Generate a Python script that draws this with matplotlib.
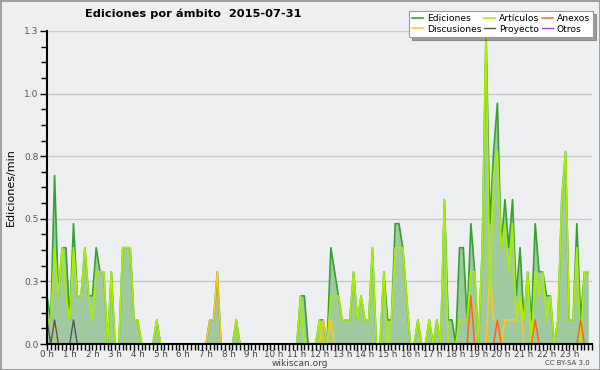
import matplotlib
matplotlib.use("Agg")
import matplotlib.pyplot as plt
import numpy as np
from matplotlib.ticker import FixedLocator, MultipleLocator

# edits per minute, 10-minute bins, one row per hour
total_rows = [
    [0.2, 0.1, 0.7, 0.2, 0.4, 0.4],
    [0.1, 0.5, 0.2, 0.2, 0.4, 0.2],
    [0.2, 0.4, 0.3, 0.3, 0.0, 0.3],
    [0.0, 0.0, 0.4, 0.4, 0.4, 0.1],
    [0.1, 0.0, 0.0, 0.0, 0.0, 0.1],
    [0.0, 0.0, 0.0, 0.0, 0.0, 0.0],
    [0.0, 0.0, 0.0, 0.0, 0.0, 0.0],
    [0.0, 0.1, 0.1, 0.3, 0.0, 0.0],
    [0.0, 0.0, 0.1, 0.0, 0.0, 0.0],
    [0.0, 0.0, 0.0, 0.0, 0.0, 0.0],
    [0.0, 0.0, 0.0, 0.0, 0.0, 0.0],
    [0.0, 0.2, 0.2, 0.0, 0.0, 0.0],
    [0.1, 0.1, 0.0, 0.4, 0.3, 0.2],
    [0.1, 0.1, 0.1, 0.3, 0.1, 0.2],
    [0.1, 0.1, 0.4, 0.0, 0.0, 0.3],
    [0.1, 0.1, 0.5, 0.5, 0.4, 0.2],
    [0.0, 0.0, 0.1, 0.0, 0.0, 0.1],
    [0.0, 0.1, 0.0, 0.6, 0.1, 0.1],
    [0.0, 0.4, 0.4, 0.1, 0.5, 0.3],
    [0.0, 0.4, 1.3, 0.5, 0.8, 1.0],
    [0.4, 0.6, 0.4, 0.6, 0.2, 0.4],
    [0.1, 0.3, 0.1, 0.5, 0.3, 0.3],
    [0.2, 0.2, 0.0, 0.1, 0.6, 0.8],
    [0.1, 0.1, 0.5, 0.1, 0.3, 0.3],
]

articles_rows = [
    [0.1, 0.1, 0.4, 0.2, 0.4, 0.2],
    [0.1, 0.4, 0.2, 0.2, 0.4, 0.2],
    [0.1, 0.3, 0.3, 0.3, 0.0, 0.3],
    [0.0, 0.0, 0.4, 0.4, 0.4, 0.1],
    [0.1, 0.0, 0.0, 0.0, 0.0, 0.1],
    [0.0, 0.0, 0.0, 0.0, 0.0, 0.0],
    [0.0, 0.0, 0.0, 0.0, 0.0, 0.0],
    [0.0, 0.0, 0.0, 0.0, 0.0, 0.0],
    [0.0, 0.0, 0.1, 0.0, 0.0, 0.0],
    [0.0, 0.0, 0.0, 0.0, 0.0, 0.0],
    [0.0, 0.0, 0.0, 0.0, 0.0, 0.0],
    [0.0, 0.2, 0.0, 0.0, 0.0, 0.0],
    [0.1, 0.0, 0.0, 0.2, 0.2, 0.2],
    [0.1, 0.1, 0.1, 0.3, 0.1, 0.2],
    [0.1, 0.1, 0.4, 0.0, 0.0, 0.3],
    [0.0, 0.1, 0.4, 0.4, 0.4, 0.2],
    [0.0, 0.0, 0.1, 0.0, 0.0, 0.1],
    [0.0, 0.1, 0.0, 0.6, 0.0, 0.0],
    [0.0, 0.1, 0.1, 0.1, 0.3, 0.3],
    [0.0, 0.4, 1.3, 0.2, 0.7, 0.8],
    [0.4, 0.5, 0.3, 0.5, 0.1, 0.2],
    [0.1, 0.3, 0.0, 0.3, 0.2, 0.3],
    [0.1, 0.2, 0.0, 0.1, 0.6, 0.8],
    [0.1, 0.1, 0.4, 0.0, 0.3, 0.3],
]

# sparse series: bin index -> value
talk_bins = [2, 43, 44, 45, 73, 75, 117, 118, 119, 121, 122, 123, 124, 125]
talk_vals = [0.1, 0.1, 0.1, 0.3, 0.1, 0.1, 0.3, 0.1, 0.1, 0.1, 0.1, 0.1, 0.1, 0.2]
project_bins = [0, 2, 7]
project_vals = [0.1, 0.1, 0.1]
annex_bins = [112, 119, 129, 141]
annex_vals = [0.2, 0.1, 0.1, 0.1]

ytick_vals = [0, 0.26, 0.52, 0.78, 1.04, 1.3]
ytick_labels = ["0.0", "0.3", "0.5", "0.8", "1.0", "1.3"]
hours = list(range(24))


def sparse(bins, vals, n):
    arr = np.zeros(n)
    arr[bins] = vals
    return arr


total = np.array(total_rows).ravel()
articles = np.array(articles_rows).ravel()
n = len(total)
talk = sparse(talk_bins, talk_vals, n)
project = sparse(project_bins, project_vals, n)
annex = sparse(annex_bins, annex_vals, n)
other = np.zeros(n)
x = np.arange(n) / 6.0

bg = "#eeeff0"
fig = plt.figure(figsize=(6, 3.7), dpi=100, facecolor=bg)
fig.patch.set_edgecolor("#a0a0a0")
fig.patch.set_linewidth(2)
ax = fig.add_axes([47 / 600, 26 / 370, 545 / 600, 313 / 370])
ax.set_facecolor(bg)

ax.fill_between(x, total, color="#9fc99f", lw=0, zorder=1)
l_total, = ax.plot(x, total, color="#33a333", lw=1.2, zorder=2)
l_talk, = ax.plot(x, talk, color="#ffc81e", lw=1.1, zorder=2.1)
l_art, = ax.plot(x, articles, color="#aaee00", lw=1.2, zorder=2.2)
l_proj, = ax.plot(x, project, color="#555555", lw=1.0, zorder=2.3)
l_annex, = ax.plot(x, annex, color="#ff6420", lw=1.1, zorder=2.4)
l_other, = ax.plot(x, other, color="#9944ee", lw=1.0, zorder=2.0)

ax.set_xlim(0, 24)
ax.set_ylim(0, 1.3)

for s in ["top", "right"]:
    ax.spines[s].set_visible(False)
for s in ["left", "bottom"]:
    ax.spines[s].set_linewidth(1.5)
    ax.spines[s].set_zorder(5)

ax.yaxis.set_major_locator(FixedLocator(ytick_vals))
ax.set_yticklabels(ytick_labels)
ax.yaxis.set_minor_locator(MultipleLocator(0.065))
ax.tick_params(axis="y", which="major", length=5, width=1, labelsize=6.5,
               labelcolor="#555555", pad=1)
ax.tick_params(axis="y", which="minor", length=4, width=1)
ax.grid(axis="y", color="#c8c8c8", lw=1)
ax.set_axisbelow(True)

ax.set_xticks(hours)
ax.set_xticklabels([f"{h} h" for h in hours])
ax.xaxis.set_minor_locator(MultipleLocator(1 / 6))
ax.tick_params(axis="x", which="both", length=4, width=1, labelsize=6.3,
               labelcolor="#444444", pad=0.5)

ax.set_ylabel("Ediciones/min", fontsize=8, labelpad=6)

fig.text(85 / 600, 1 - 14 / 370, "Ediciones por ámbito  2015-07-31",
         fontsize=8.2, fontweight="bold", ha="left", va="center")
fig.text(0.5, 1 - 363 / 370, "wikiscan.org", fontsize=6.5, color="#444444",
         ha="center", va="center")
fig.text(590 / 600, 1 - 363 / 370, "CC BY-SA 3.0", fontsize=5,
         color="#444444", ha="right", va="center")

leg = fig.legend([l_total, l_talk, l_art, l_proj, l_annex, l_other],
                 ["Ediciones", "Discusiones", "Artículos", "Proyecto",
                  "Anexos", "Otros"],
                 ncol=3, loc="upper right",
                 bbox_to_anchor=(593 / 600, 1 - 11 / 370),
                 fontsize=6.6, frameon=True, fancybox=False, shadow=True,
                 handlelength=1.2, handletextpad=0.4, columnspacing=0.3,
                 labelspacing=0.15, borderpad=0.35, borderaxespad=0)
leg.get_frame().set_edgecolor("#999999")
leg.get_frame().set_linewidth(0.8)
leg.set_zorder(10)

fig.savefig("out.png", dpi=100, facecolor=bg, edgecolor="#a0a0a0")
